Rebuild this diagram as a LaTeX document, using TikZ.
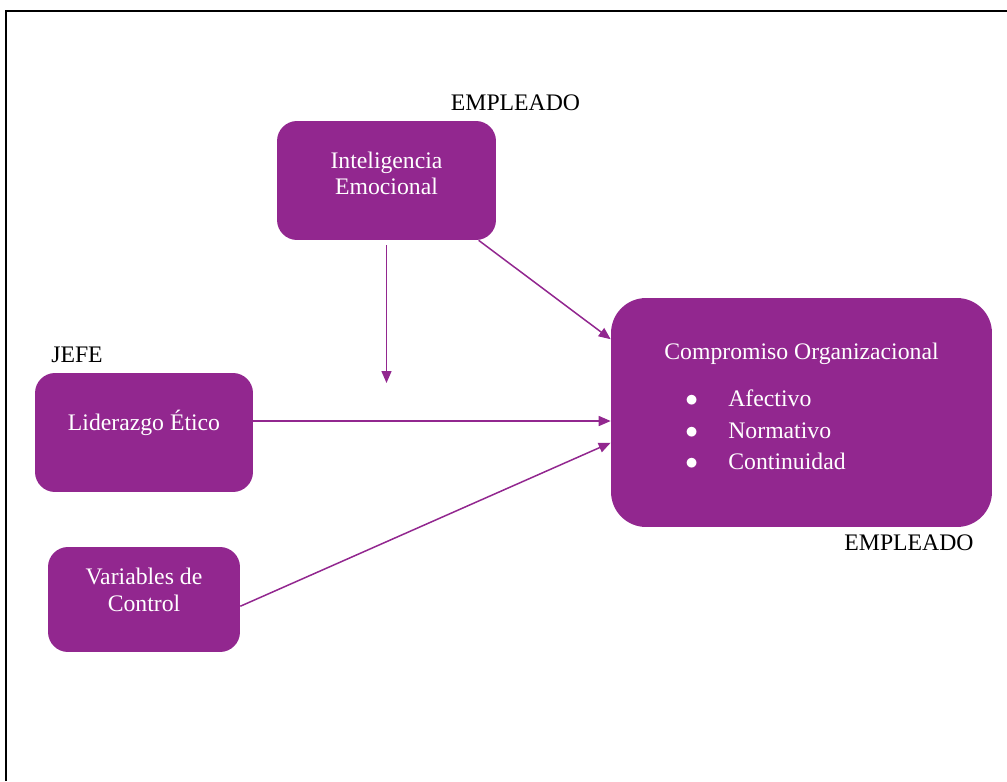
\documentclass[tikz,border=0pt]{standalone}
\usepackage{fontspec}
\setmainfont{Liberation Serif}
\usetikzlibrary{arrows.meta,positioning}
\begin{document}
\begin{tikzpicture}[x=0.02cm, y=-0.02cm, >={Triangle[length=0.24cm, width=0.2cm]}, font=\fontsize{13.5}{15}\selectfont]
%====Definizione colori===============================================================
	\definecolor{morado}{RGB}{146,39,143}
%====Definizione stili===============================================================
	\tikzstyle{box}=[rectangle, rounded corners=0.4cm, fill=morado, text=white, align=center, inner sep=0pt]
	\tikzstyle{tag}=[inner sep=0pt, text=black]
	\tikzstyle{conn}=[->, draw=morado, line width=0.03cm]
%====Cornice===============================================================
	\useasboundingbox (0,0) rectangle (1007,781);
	\draw[line width=0.04cm] (6,781) -- (6,11) -- (1007,11);
%====Definizione nodi e posizione===============================================================
	\node[box, minimum width=4.38cm, minimum height=2.38cm, text depth=8pt] 	(A) at (386.5,180.5)	{Inteligencia\\Emocional};
	\node[box, minimum width=7.62cm, minimum height=4.58cm, rounded corners=0.7cm, align=left, text depth=7pt] 	(B) at (801.5,412.5)	{Compromiso Organizacional\\[12pt]
		\hspace*{0.42cm}\makebox[0.86cm][l]{$\bullet$}Afectivo\\[3pt]
		\hspace*{0.42cm}\makebox[0.86cm][l]{$\bullet$}Normativo\\[3pt]
		\hspace*{0.42cm}\makebox[0.86cm][l]{$\bullet$}Continuidad};
	\node[box, minimum width=4.36cm, minimum height=2.38cm, text depth=14pt] 	(C) at (144,432.5)	{Liderazgo Ético};
	\node[box, minimum width=3.84cm, minimum height=2.1cm, text depth=11pt] 	(D) at (144,599.5)	{Variables de\\Control};
	\coordinate (E) at (386.5,383);
%====Etichette===============================================================
	\node[tag]	(F) at (515.5,103)	{EMPLEADO};
	\node[tag]	(G) at (77,355)	{JEFE};
	\node[tag]	(H) at (909,543)	{EMPLEADO};
%====Definizione collegamenti===============================================================
	%from	stile	to
	\path	(A.south)	edge[conn, shorten <=0.1cm]	(E)
			(A.-33.6)	edge[conn]	(B.159.7)
			(C.6)	edge[conn]	(C.6 -| B.west)
			(D.-4.5)	edge[conn]	(B.189.1);
\end{tikzpicture}
\end{document}
